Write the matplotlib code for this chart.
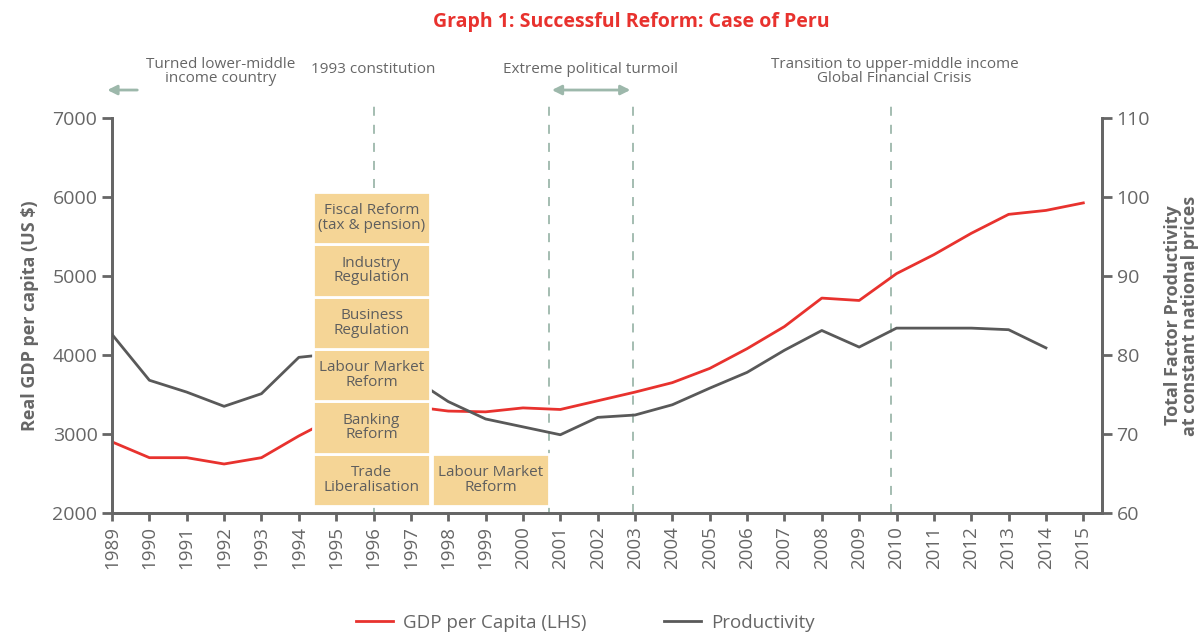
import matplotlib
matplotlib.use("Agg")
import matplotlib.pyplot as plt
from matplotlib.patches import Rectangle

plt.rcParams['font.family'] = ['Open Sans', 'DejaVu Sans']

years = list(range(1989, 2016))
gdp = [2900, 2700, 2700, 2620, 2700, 2975, 3220, 3250, 3350, 3290, 3280, 3330, 3310,
       3420, 3530, 3650, 3830, 4080, 4360, 4720, 4690, 5030, 5270, 5540, 5780, 5830, 5925]
prod_years = list(range(1989, 2015))
prod = [82.6, 76.8, 75.3, 73.5, 75.1, 79.7, 80.2, 79.0, 77.2, 74.1, 71.9, 70.9, 69.9,
        72.1, 72.4, 73.7, 75.8, 77.8, 80.6, 83.1, 81.0, 83.4, 83.4, 83.4, 83.2, 80.9]

events = [1996, 2000.7, 2002.95, 2009.85]
reforms_left = ["Trade\nLiberalisation", "Banking\nReform", "Labour Market\nReform",
                "Business\nRegulation", "Industry\nRegulation", "Fiscal Reform\n(tax & pension)"]
reforms_right = ["Labour Market\nReform"]

RED = "#e8322e"
GREY = "#595959"
TXT = "#666666"
GUIDE = "#9db8ab"
BOX = "#f5d596"

fig = plt.figure(figsize=(12.02, 6.34), dpi=100)
ax = fig.add_axes([0.0932, 0.1909, 0.8236, 0.6230])
ax2 = ax.twinx()

ax.plot(years, gdp, color=RED, lw=2, zorder=3, label="GDP per Capita (LHS)")
ax2.plot(prod_years, prod, color=GREY, lw=2, zorder=3, label="Productivity")

ax.set_xlim(1989, 2015.5)
ax.set_ylim(2000, 7000)
ax2.set_ylim(60, 110)
ax.set_yticks(range(2000, 7001, 1000))
ax2.set_yticks(range(60, 111, 10))
ax.set_xticks(years)
ax.set_xticklabels([str(y) for y in years], rotation=90)

for a in (ax, ax2):
    a.spines['top'].set_visible(False)
    for s in ('left', 'right', 'bottom'):
        a.spines[s].set_color(TXT)
        a.spines[s].set_linewidth(2)
    a.tick_params(colors=TXT, width=2, length=7, labelsize=14)
ax.tick_params(axis='x', labelsize=13.5, length=6)

ax.set_ylabel("Real GDP per capita (US $)", color=TXT, fontsize=13, fontweight='bold', labelpad=10)
ax2.set_ylabel("Total Factor Productivity\nat constant national prices", color=TXT,
               fontsize=13, fontweight='bold', labelpad=10, linespacing=0.95)

# overlay axes so the reform boxes sit above both lines
ov = fig.add_axes(ax.get_position(), sharex=ax, frameon=False)
ov.set_ylim(2000, 7000)
ov.axis('off')
h = (6063 - 2089) / 6
for col, (x0, labels) in enumerate([(1994.38, reforms_left), (1997.57, reforms_right)]):
    for i, lab in enumerate(labels):
        y0 = 2089 + i * h
        ov.add_patch(Rectangle((x0, y0), 3.13, h, facecolor=BOX, edgecolor='white', lw=2))
        ov.text(x0 + 3.13 / 2, y0 + h / 2, lab, ha='center', va='center', fontsize=11,
                color="#5e5e5e", linespacing=0.95)

for x in events:
    ax.plot([x, x], [2000, 7250], ls=(0, (5, 5)), color=GUIDE, lw=1.3, clip_on=False, zorder=1)

ax.annotate("", xy=(1988.8, 7354), xytext=(1989.75, 7354), annotation_clip=False,
            arrowprops=dict(arrowstyle='-|>', color=GUIDE, lw=2, mutation_scale=14))
ax.annotate("", xy=(2000.7, 7354), xytext=(2002.95, 7354), annotation_clip=False,
            arrowprops=dict(arrowstyle='<|-|>', color=GUIDE, lw=2, mutation_scale=14))

ann = dict(ha='center', va='center', fontsize=11, color=TXT, linespacing=0.95, clip_on=False)
ax.text(1991.9, 7590, "Turned lower-middle\nincome country", **ann)
ax.text(1996.0, 7620, "1993 constitution", **ann)
ax.text(2001.8, 7620, "Extreme political turmoil", **ann)
ax.text(2009.95, 7590, "Transition to upper-middle income\nGlobal Financial Crisis", **ann)

fig.text(0.525, 0.965, "Graph 1: Successful Reform: Case of Peru", ha='center', va='center',
         color=RED, fontsize=14, fontweight='bold')

h1, l1 = ax.get_legend_handles_labels()
h2, l2 = ax2.get_legend_handles_labels()
fig.legend(h1 + h2, l1 + l2, loc='center', bbox_to_anchor=(0.487, 0.018), ncol=2,
           frameon=False, fontsize=13.5, labelcolor=TXT, handlelength=2.0,
           handletextpad=0.55, columnspacing=4.1)

fig.savefig("out.png", dpi=100)
